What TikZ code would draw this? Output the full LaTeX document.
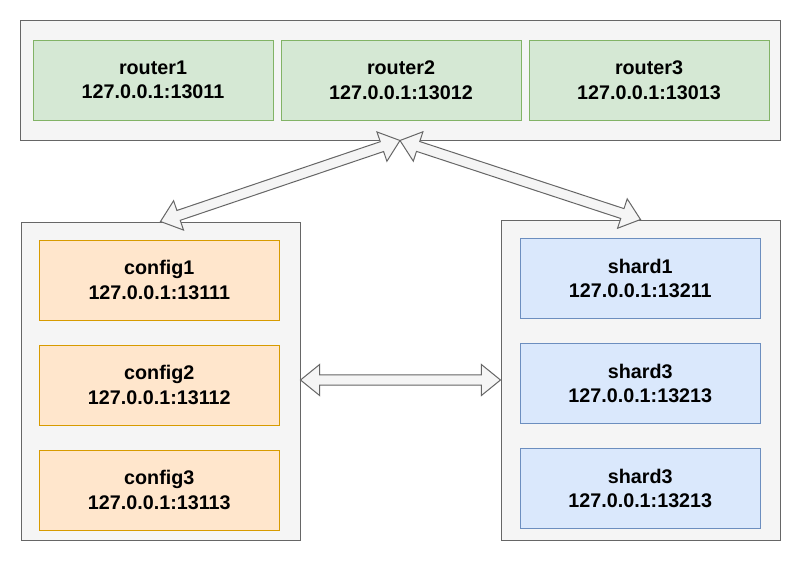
\documentclass[tikz,border=0pt]{standalone}
\usepackage{fontspec}
\setmainfont{Liberation Sans}
\usetikzlibrary{calc}

\definecolor{Frame}{HTML}{F5F5F5}
\definecolor{FrameLine}{HTML}{666666}
\definecolor{Router}{HTML}{D5E8D4}
\definecolor{RouterLine}{HTML}{82B366}
\definecolor{Config}{HTML}{FFE6CC}
\definecolor{ConfigLine}{HTML}{D79B00}
\definecolor{Shard}{HTML}{DAE8FC}
\definecolor{ShardLine}{HTML}{6C8EBF}

% hollow double arrow between two points
\newcommand{\flexarrow}[2]{%
 \coordinate (fa1) at ($(#1)!14.3pt!(#2)$);
 \coordinate (fa2) at ($(#2)!14.3pt!(#1)$);
 \draw [flex] (#1) -- ($(fa1)!11.6pt!90:(#2)$) -- ($(fa1)!3.9pt!90:(#2)$)
   -- ($(fa2)!3.9pt!-90:(#1)$) -- ($(fa2)!11.6pt!-90:(#1)$) -- (#2)
   -- ($(fa2)!11.6pt!90:(#1)$) -- ($(fa2)!3.9pt!90:(#1)$)
   -- ($(fa1)!3.9pt!-90:(#2)$) -- ($(fa1)!11.6pt!-90:(#2)$) -- cycle ;}

\begin{document}
\begin{tikzpicture}[x=0.75pt, y=-0.75pt,
  group/.style={draw=FrameLine, fill=Frame, line width=0.75pt, inner sep=0pt},
  member/.style={line width=0.75pt, minimum width=180pt, minimum height=60pt, inner sep=0pt,
    align=center, font=\fontsize{14.8}{18.4}\selectfont\bfseries},
  router/.style={member, draw=RouterLine, fill=Router},
  config/.style={member, draw=ConfigLine, fill=Config},
  shard/.style={member, draw=ShardLine, fill=Shard},
  flex/.style={draw=FrameLine, fill=Frame, line width=0.75pt, line join=miter}]

 \path [fill=white, use as bounding box] (0,0) rectangle (801,561) ;

 %%%%%%%%%% Groups %%%%%%%%%%
 \node [group, minimum width=570pt, minimum height=90pt] (routers) at (400,80) {};
 \node [group, minimum width=209.25pt, minimum height=238.5pt] (configs) at (160.5,381) {};
 \node [group, minimum width=209.25pt, minimum height=240pt] (shards) at (640.5,380) {};

 %%%%%%%%%% Routers %%%%%%%%%%
 \node [router] (router1) at (153,80) {router1\\127.0.0.1:13011};
 \node [router] (router2) at (401,80) {router2\\127.0.0.1:13012};
 \node [router] (router3) at (649,80) {router3\\127.0.0.1:13013};

 %%%%%%%%%% Config servers %%%%%%%%%%
 \node [config] (config1) at (159.3,280) {config1\\127.0.0.1:13111};
 \node [config] (config2) at (159.3,385) {config2\\127.0.0.1:13112};
 \node [config] (config3) at (159.3,490) {config3\\127.0.0.1:13113};

 %%%%%%%%%% Shards %%%%%%%%%%
 \node [shard] (shard1) at (640.3,278.3) {shard1\\127.0.0.1:13211};
 \node [shard] (shard2) at (640.3,383.3) {shard3\\127.0.0.1:13213};
 \node [shard] (shard3) at (640.3,488.3) {shard3\\127.0.0.1:13213};

 %%%%%%%%%% Links %%%%%%%%%%
 \coordinate (cfgside) at (configs.east |- shards.west);
 \flexarrow{routers.south}{configs.north}
 \flexarrow{routers.south}{shards.north}
 \flexarrow{cfgside}{shards.west}

\end{tikzpicture}
\end{document}
